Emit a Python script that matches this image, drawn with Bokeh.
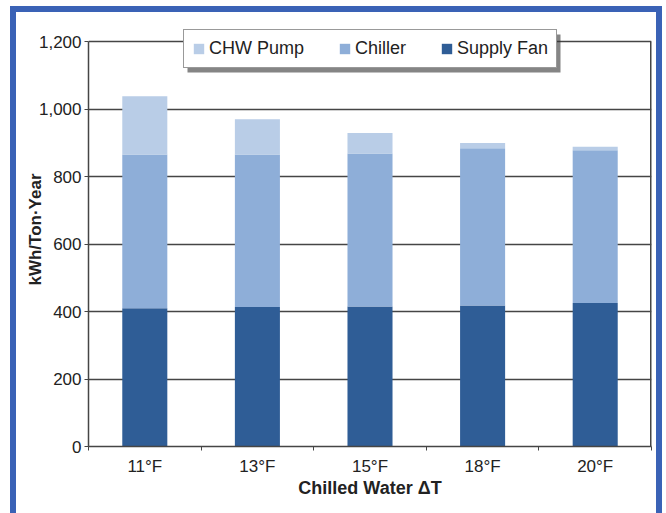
from bokeh.plotting import figure
from bokeh.models import (ColumnDataSource, BoxAnnotation, Legend, LegendItem,
                          FixedTicker, NumeralTickFormatter)
from bokeh.embed import file_html
from bokeh.resources import INLINE

# ---- data ----
categories = ["11°F", "13°F", "15°F", "18°F", "20°F"]
supply_fan = [410, 413, 415, 418, 425]
chiller = [455, 452, 453, 466, 453]
chw_pump = [173, 105, 61, 15, 10]
y_ticks = [0, 200, 400, 600, 800, 1000, 1200]

x_pos = list(range(1, len(categories) + 1))
boundaries = [i + 0.5 for i in range(0, len(categories) + 1)]
x_end = len(categories) + 0.5

FAN = "#2f5d96"
CHILLER = "#8eaed8"
PUMP = "#b9cde7"
FRAME_BLUE = "#3a62b6"
DARK = "#454545"
FONT = "Liberation Sans"

source = ColumnDataSource(dict(x=x_pos, fan=supply_fan, chiller=chiller, pump=chw_pump))

# blue frame on top, left and right only (drawn as box shadows around the figure)
frame_shadow = ", ".join([
    f"0 -6px 0 0 {FRAME_BLUE}",
    f"-6px 0 0 0 {FRAME_BLUE}",
    f"6px 0 0 0 {FRAME_BLUE}",
    f"-6px -6px 0 0 {FRAME_BLUE}",
    f"6px -6px 0 0 {FRAME_BLUE}",
])

# y range extends above the top tick so the legend (which overlaps the top line) is not clipped
p = figure(width=640, height=501, x_range=(0.5, x_end), y_range=(0, 1286),
           output_backend="svg", toolbar_location=None,
           min_border_left=72, min_border_right=5, min_border_top=0, min_border_bottom=67,
           margin=(12, 0, 0, 16),
           styles={"box-shadow": frame_shadow})
p.background_fill_color = "white"
p.border_fill_color = "white"
p.outline_line_color = None

renderers = p.vbar_stack(["fan", "chiller", "pump"], x="x", width=0.4,
                         color=[FAN, CHILLER, PUMP], source=source, line_width=0)

# right-hand frame line of the plot area
p.segment(x0=[x_end], y0=[y_ticks[0]], x1=[x_end], y1=[y_ticks[-1]],
          line_color=DARK, line_width=3)

# axes
p.xaxis.ticker = FixedTicker(ticks=x_pos, minor_ticks=boundaries)
p.xaxis.major_label_overrides = {x: c for x, c in zip(x_pos, categories)}
p.xaxis.major_tick_out = 0
p.xaxis.major_tick_in = 0
p.xaxis.minor_tick_out = 4
p.xaxis.minor_tick_in = 0
p.xaxis.minor_tick_line_color = DARK
p.xaxis.axis_line_color = DARK
p.xaxis.axis_line_width = 1.5
p.xaxis.major_label_text_font = FONT
p.xaxis.major_label_text_font_size = "17px"
p.xaxis.major_label_text_color = "#222222"
p.xaxis.major_label_standoff = 6
p.xaxis.axis_label = "Chilled Water ΔT"
p.xaxis.axis_label_text_font = FONT
p.xaxis.axis_label_text_font_style = "bold"
p.xaxis.axis_label_text_font_size = "18px"
p.xaxis.axis_label_text_color = "#222222"
p.xaxis.axis_label_standoff = -1

p.yaxis.ticker = FixedTicker(ticks=y_ticks)
p.yaxis.bounds = (y_ticks[0], y_ticks[-1])
p.yaxis.formatter = NumeralTickFormatter(format="0,0")
p.yaxis.major_tick_out = 4
p.yaxis.major_tick_in = 0
p.yaxis.minor_tick_out = 0
p.yaxis.minor_tick_in = 0
p.yaxis.major_tick_line_color = DARK
p.yaxis.axis_line_color = DARK
p.yaxis.axis_line_width = 1.5
p.yaxis.major_label_text_font = FONT
p.yaxis.major_label_text_font_size = "17px"
p.yaxis.major_label_text_color = "#222222"
p.yaxis.major_label_standoff = 3
p.yaxis.axis_label = "kWh/Ton·Year"
p.yaxis.axis_label_text_font = FONT
p.yaxis.axis_label_text_font_style = "bold"
p.yaxis.axis_label_text_font_size = "17px"
p.yaxis.axis_label_text_color = "#222222"
p.yaxis.axis_label_standoff = -9

p.xgrid.grid_line_color = None
p.ygrid.ticker = FixedTicker(ticks=y_ticks)
p.ygrid.grid_line_color = DARK
p.ygrid.grid_line_width = 1.6

# legend drop shadow
p.add_layout(BoxAnnotation(left=171, right=544, top=22, bottom=60,
                           left_units="canvas", right_units="canvas",
                           top_units="canvas", bottom_units="canvas",
                           fill_color="#333333", fill_alpha=0.6, line_alpha=0,
                           level="annotation"))

legend = Legend(items=[LegendItem(label="CHW Pump", renderers=[renderers[2]]),
                       LegendItem(label="Chiller", renderers=[renderers[1]]),
                       LegendItem(label="Supply Fan", renderers=[renderers[0]])],
                orientation="horizontal", location=(95, 378),
                glyph_width=13, glyph_height=13, label_standoff=4, spacing=34,
                padding=8, margin=0,
                label_text_font=FONT, label_text_font_size="18px",
                label_text_color="#222222",
                border_line_color="#333333", border_line_width=1.5,
                background_fill_color="white", background_fill_alpha=1)
p.add_layout(legend, "center")

open("out.html", "w").write(file_html(p, INLINE))
